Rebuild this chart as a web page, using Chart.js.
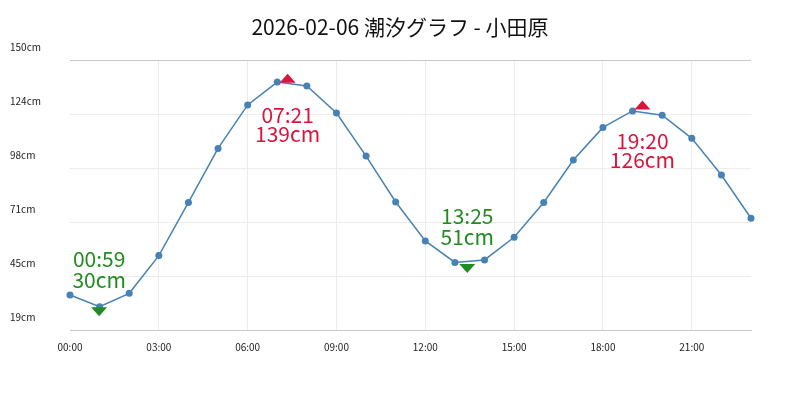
<!DOCTYPE html>
<html>
<head>
<meta charset="utf-8">
<script src="https://cdn.jsdelivr.net/npm/chart.js@4"></script>
<style>
  body { margin: 0; background: #fff; }
  #wrap { width: 800px; height: 400px; }
</style>
</head>
<body>
<div id="wrap"><canvas id="tide-chart"></canvas></div>
<script>
// hourly tide level (cm), 00:00 .. 23:00
const hours = [0, 1, 2, 3, 4, 5, 6, 7, 8, 9, 10, 11, 12, 13, 14, 15, 16, 17, 18, 19, 20, 21, 22, 23];
const levels = [36, 30.3, 36.8, 55.1, 80.9, 107.1, 128.2, 139.3, 137.4, 124.3, 103.4, 81.1,
                62.2, 51.8, 53, 64, 80.9, 101.5, 117.3, 125.3, 123.2, 112, 94.2, 73.2];

// high / low tides
const extremeTimes = [0 + 59 / 60, 7 + 21 / 60, 13 + 25 / 60, 19 + 20 / 60];
const extremeLevels = [30, 139, 51, 126];
const extremeLabels = ['00:59', '07:21', '13:25', '19:20'];
const extremeKinds = ['low', 'high', 'low', 'high'];

// axis ticks
const xTickValues = [0, 3, 6, 9, 12, 15, 18, 21];
const yTickValues = [19, 45.2, 71.4, 97.6, 123.8, 150];

const FONT = "'Noto Sans CJK JP', 'Noto Sans', sans-serif";
const HIGH_COLOR = '#dc143c';
const LOW_COLOR = '#228b22';

function pad2(n) {
    return String(n).padStart(2, '0');
}

// 潮位の極値マーカーとラベル
const extremePlugin = {
    id: 'extremes',
    afterDatasetsDraw(chart) {
        const ctx = chart.ctx;
        const xs = chart.scales.x;
        const ys = chart.scales.y;
        ctx.save();
        ctx.font = `21px ${FONT}`;
        ctx.textAlign = 'center';
        ctx.textBaseline = 'middle';
        extremeTimes.forEach((t, i) => {
            const px = xs.getPixelForValue(t);
            const py = ys.getPixelForValue(extremeLevels[i]);
            const high = extremeKinds[i] === 'high';
            const color = high ? HIGH_COLOR : LOW_COLOR;
            const dir = high ? -1 : 1;

            ctx.fillStyle = color;
            ctx.beginPath();
            ctx.moveTo(px - 8, py);
            ctx.lineTo(px + 8, py);
            ctx.lineTo(px, py + dir * 9);
            ctx.closePath();
            ctx.fill();

            const l1 = extremeLabels[i];
            const l2 = Math.round(extremeLevels[i]) + 'cm';
            if (high) {
                ctx.fillText(l1, px, py + 32);
                ctx.fillText(l2, px, py + 51);
            } else {
                ctx.fillText(l1, px, py - 48);
                ctx.fillText(l2, px, py - 27);
            }
        });
        ctx.restore();
    }
};

const ctx = document.getElementById('tide-chart').getContext('2d');

new Chart(ctx, {
    type: 'line',
    data: {
        datasets: [{
            label: '潮位',
            data: hours.map((h, i) => ({ x: h, y: levels[i] })),
            borderColor: '#4682b4',
            backgroundColor: '#4682b4',
            borderWidth: 1.5,
            pointRadius: 3.5,
            pointBackgroundColor: '#4682b4',
            pointBorderWidth: 0,
            tension: 0,
            fill: false,
            clip: false
        }]
    },
    options: {
        responsive: true,
        maintainAspectRatio: false,
        animation: false,
        layout: {
            padding: { left: 10, right: 10, top: 0, bottom: 0 }
        },
        scales: {
            x: {
                type: 'linear',
                min: 0,
                max: 23,
                afterBuildTicks: (scale) => {
                    scale.ticks = xTickValues.map(v => ({ value: v }));
                },
                afterFit: (scale) => { scale.height = 70; },
                grid: {
                    color: (c) => (c.tick && c.tick.value === 0) ? 'rgba(0,0,0,0)' : '#ececec',
                    drawTicks: false
                },
                border: { display: true, color: '#c8c8c8', width: 1 },
                ticks: {
                    padding: 11,
                    color: '#222',
                    font: { family: FONT, size: 10 },
                    callback: (v) => pad2(v) + ':00'
                }
            },
            y: {
                min: 19,
                max: 150,
                afterBuildTicks: (scale) => {
                    scale.ticks = yTickValues.map(v => ({ value: v }));
                },
                afterFit: (scale) => { scale.width = 60; },
                grid: {
                    color: (c) => (c.tick && c.tick.value === 150) ? '#c8c8c8' : '#ececec',
                    drawTicks: false
                },
                border: { display: false },
                ticks: {
                    crossAlign: 'far',
                    labelOffset: -13,
                    color: '#222',
                    font: { family: FONT, size: 10 },
                    callback: (v) => Math.round(v) + 'cm'
                }
            },
            // empty right-hand spacer so the plot ends at the same place as the reference
            spacer: {
                type: 'linear',
                position: 'right',
                display: true,
                grid: { display: false, drawTicks: false },
                border: { display: false },
                ticks: { display: false },
                afterFit: (scale) => { scale.width = 39; }
            }
        },
        plugins: {
            legend: { display: false },
            tooltip: { enabled: false },
            title: {
                display: true,
                text: '2026-02-06 潮汐グラフ - 小田原',
                color: '#111',
                font: { family: FONT, size: 21, weight: 'normal' },
                padding: { top: 14, bottom: 20.8 }
            }
        }
    },
    plugins: [extremePlugin]
});
</script>
</body>
</html>
